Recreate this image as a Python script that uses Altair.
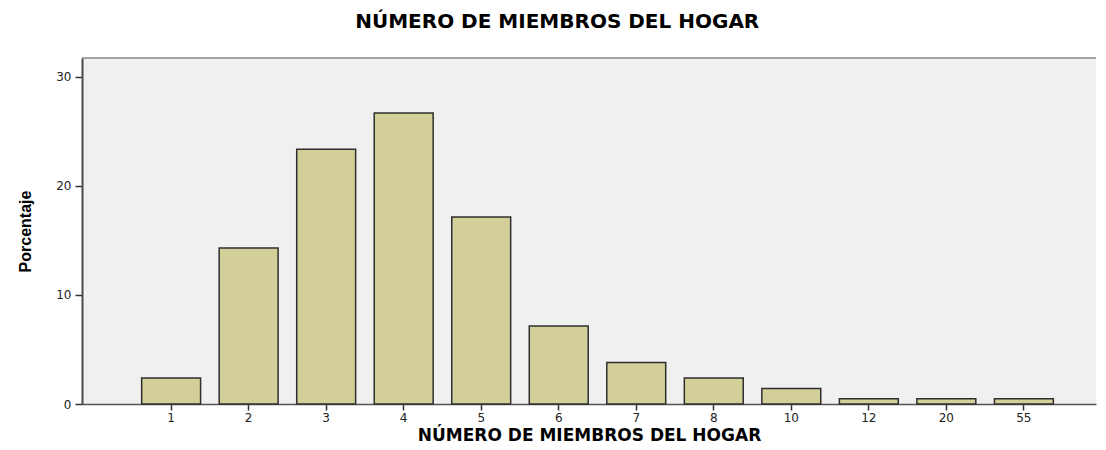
import altair as alt
import pandas as pd

# Data
categories = ["1", "2", "3", "4", "5", "6", "7", "8", "10", "12", "20", "55"]
percentages = [2.38, 14.29, 23.33, 26.67, 17.14, 7.14, 3.81, 2.38, 1.43, 0.48, 0.48, 0.48]
y_ticks = [0, 10, 20, 30]

df = pd.DataFrame({"miembros": categories, "porcentaje": percentages})
frame_df = pd.DataFrame({"edge": [0]})

W = 1014
H = 346

bars = alt.Chart(df).mark_bar(
    fill="#D3CF98", stroke="#2E2E2E", strokeWidth=1.5
).encode(
    x=alt.X(
        "miembros:N",
        sort=categories,
        title="NÚMERO DE MIEMBROS DEL HOGAR",
        scale=alt.Scale(paddingInner=0.24, paddingOuter=0.66, align=0.583),
        axis=alt.Axis(
            labelAngle=0,
            labelFont="DejaVu Sans",
            labelFontSize=12,
            labelColor="#222222",
            labelPadding=2,
            tickSize=6,
            tickColor="#333333",
            tickWidth=1.5,
            domainColor="#555555",
            domainWidth=1.5,
            titleFont="DejaVu Sans",
            titleFontSize=17,
            titleFontWeight="bold",
            titleColor="#000000",
            titlePadding=4,
        ),
    ),
    y=alt.Y(
        "porcentaje:Q",
        title="Porcentaje",
        scale=alt.Scale(domain=[0, 31.7], nice=False),
        axis=alt.Axis(
            values=y_ticks,
            grid=False,
            labelFont="DejaVu Sans",
            labelFontSize=12,
            labelColor="#222222",
            labelPadding=4,
            tickSize=7,
            tickColor="#333333",
            tickWidth=1.5,
            domainColor="#4A4A4A",
            domainWidth=2,
            titleFont="Liberation Sans",
            titleFontSize=16,
            titleFontWeight="bold",
            titleColor="#000000",
            titlePadding=22,
        ),
    ),
)

top_line = alt.Chart(frame_df).mark_rule(color="#8A8A8A", strokeWidth=1.5).encode(
    x=alt.value(0), x2=alt.value(W), y=alt.value(0)
)

chart = (
    alt.layer(bars, top_line)
    .properties(
        width=W,
        height=H,
        title=alt.TitleParams(
            "NÚMERO DE MIEMBROS DEL HOGAR",
            anchor="middle",
            frame="bounds",
            font="DejaVu Sans",
            fontSize=20,
            fontWeight="bold",
            color="#000000",
            offset=25,
        ),
        padding={"left": 9, "top": 4, "right": 0, "bottom": 0},
    )
    .configure_view(fill="#F0F0F0", strokeWidth=0)
)

chart.save("out.html", embed_options={"renderer": "svg", "actions": False})
